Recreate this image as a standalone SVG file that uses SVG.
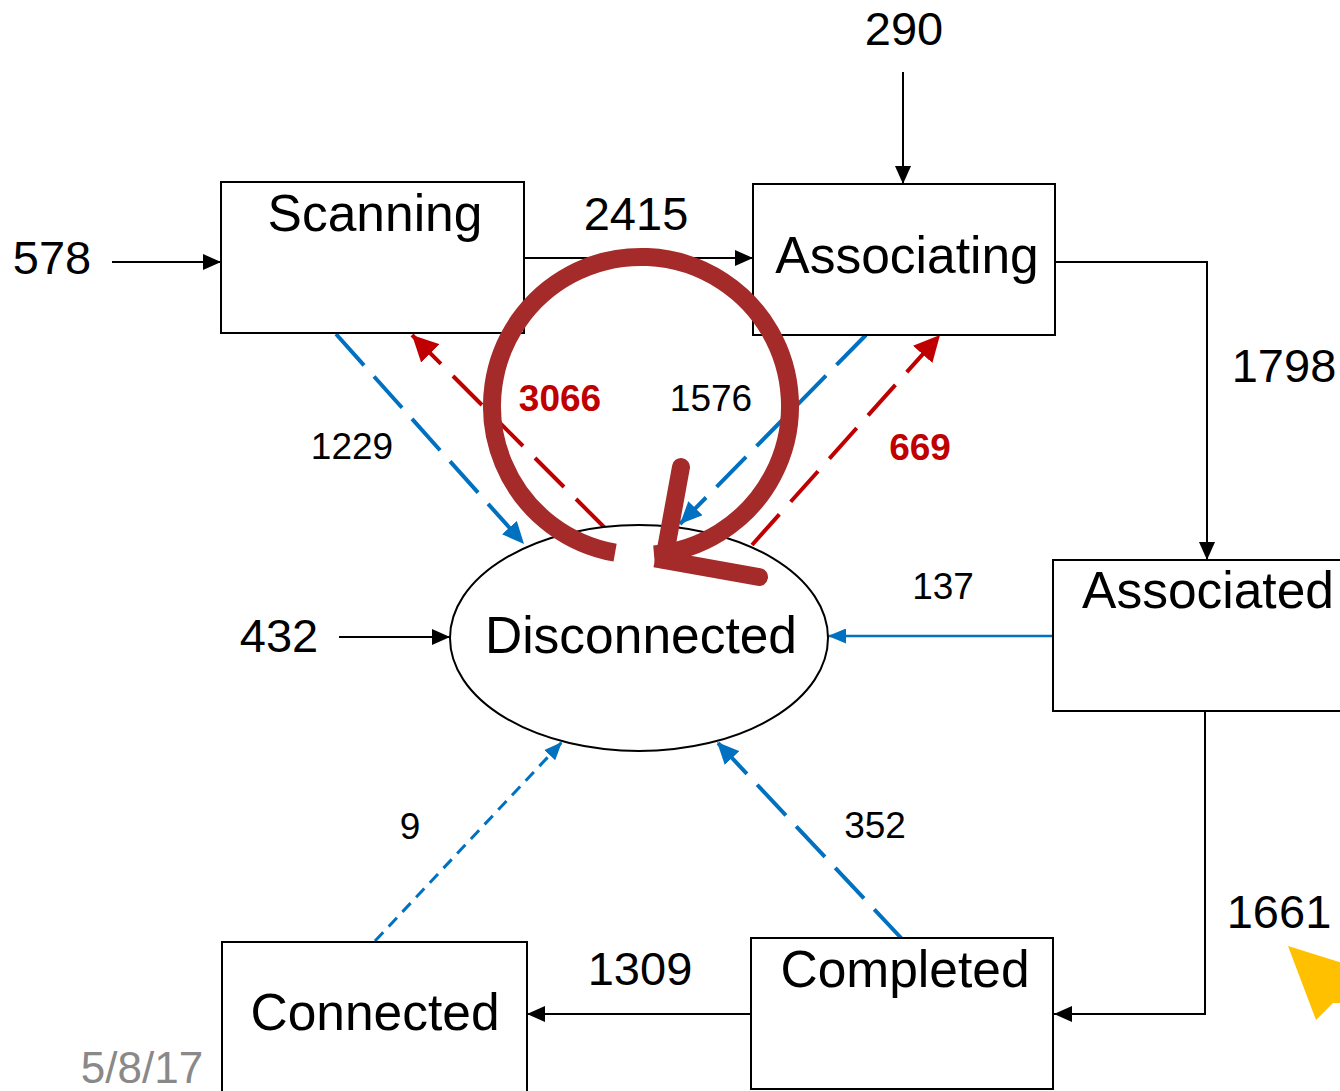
<svg xmlns="http://www.w3.org/2000/svg" width="1340" height="1091" viewBox="0 0 1340 1091">
  <style>
    .box { fill: #ffffff; stroke: #000000; stroke-width: 2; }
    .lbl { font-family: "Liberation Sans", Arial, sans-serif; font-size: 51.5px; fill: #000000; text-anchor: middle; }
    .big { font-family: "Liberation Sans", Arial, sans-serif; font-size: 47px; fill: #000000; text-anchor: middle; }
    .sm { font-family: "Liberation Sans", Arial, sans-serif; font-size: 37px; fill: #000000; text-anchor: middle; }
    .smr { font-family: "Liberation Sans", Arial, sans-serif; font-size: 37px; font-weight: bold; fill: #C00000; text-anchor: middle; }
    .blk { fill: none; stroke: #000000; stroke-width: 2; }
    .blu { fill: none; stroke: #0070C0; stroke-width: 4; stroke-dasharray: 42 15; }
    .red { fill: none; stroke: #C00000; stroke-width: 4; stroke-dasharray: 41 17; }
  </style>
  <defs>
    <marker id="mK" viewBox="0 0 18 16" refX="18" refY="8" markerWidth="18" markerHeight="16" markerUnits="userSpaceOnUse" orient="auto">
      <path d="M0,0 L18,8 L0,16 z" fill="#000000"/>
    </marker>
    <marker id="mB" viewBox="0 0 22 20" refX="22" refY="10" markerWidth="22" markerHeight="20" markerUnits="userSpaceOnUse" orient="auto">
      <path d="M0,0 L22,10 L0,20 z" fill="#0070C0"/>
    </marker>
    <marker id="mBs" viewBox="0 0 18 15" refX="18" refY="7.5" markerWidth="18" markerHeight="15" markerUnits="userSpaceOnUse" orient="auto">
      <path d="M0,0 L18,7.5 L0,15 z" fill="#0070C0"/>
    </marker>
    <marker id="mR" viewBox="0 0 26 26" refX="26" refY="13" markerWidth="26" markerHeight="26" markerUnits="userSpaceOnUse" orient="auto">
      <path d="M0,0 L26,13 L0,26 z" fill="#C00000"/>
    </marker>
  </defs>
  <rect width="1340" height="1091" fill="#ffffff"/>

  <g id="connectors">
    <line class="blk" x1="112" y1="262" x2="221" y2="262" marker-end="url(#mK)"/>
    <line class="blk" x1="903" y1="72" x2="903" y2="184" marker-end="url(#mK)"/>
    <line class="blk" x1="339" y1="637" x2="450" y2="637" marker-end="url(#mK)"/>
    <line class="blk" x1="524" y1="258" x2="753" y2="258" marker-end="url(#mK)"/>
    <polyline class="blk" points="1055,262 1207,262 1207,560" marker-end="url(#mK)"/>
    <polyline class="blk" points="1205,711 1205,1014 1054,1014" marker-end="url(#mK)"/>
    <line class="blk" x1="751" y1="1014" x2="527" y2="1014" marker-end="url(#mK)"/>
    <line x1="1053" y1="636" x2="828" y2="636" stroke="#0070C0" stroke-width="2.5" marker-end="url(#mBs)"/>
    <line class="blu" x1="336" y1="334" x2="524" y2="544" marker-end="url(#mB)"/>
    <line class="blu" x1="866" y1="335" x2="680" y2="524" stroke-dasharray="41 17" marker-end="url(#mB)"/>
    <line class="blu" x1="903" y1="940" x2="717" y2="742" marker-end="url(#mB)"/>
    <line x1="375" y1="941" x2="562" y2="742" stroke="#0070C0" stroke-width="3" stroke-dasharray="12 8" marker-end="url(#mBs)"/>
    <line class="red" x1="605" y1="528" x2="412" y2="335" stroke-width="5" stroke-dasharray="65 23" marker-end="url(#mR)"/>
    <line class="red" x1="752" y1="545" x2="940" y2="335" marker-end="url(#mR)"/>
  </g>

  <g id="node-scanning">
    <rect class="box" x="221" y="182" width="303" height="151"/>
    <text class="lbl" x="375" y="231">Scanning</text>
  </g>
  <g id="node-associating">
    <rect class="box" x="753" y="184" width="302" height="151"/>
    <text class="lbl" x="907" y="273">Associating</text>
  </g>
  <g id="node-associated">
    <rect class="box" x="1053" y="560" width="300" height="151"/>
    <text class="lbl" x="1208" y="608">Associated</text>
  </g>
  <g id="node-completed">
    <rect class="box" x="751" y="938" width="302" height="151"/>
    <text class="lbl" x="905" y="987">Completed</text>
  </g>
  <g id="node-connected">
    <rect class="box" x="222" y="942" width="305" height="170"/>
    <text class="lbl" x="375" y="1030">Connected</text>
  </g>
  <g id="node-disconnected">
    <ellipse class="box" cx="639" cy="638" rx="189" ry="113"/>
    <text class="lbl" x="641" y="653">Disconnected</text>
  </g>

  <g id="labels">
    <text class="big" x="52" y="274">578</text>
    <text class="big" x="904" y="45">290</text>
    <text class="big" x="279" y="652">432</text>
    <text class="big" x="636" y="230">2415</text>
    <text class="big" x="1284" y="382">1798</text>
    <text class="big" x="1279" y="928">1661</text>
    <text class="big" x="640" y="985">1309</text>
    <text class="sm" x="943" y="599">137</text>
    <text class="sm" x="352" y="459">1229</text>
    <text class="sm" x="711" y="411">1576</text>
    <text class="sm" x="410" y="839">9</text>
    <text class="sm" x="875" y="838">352</text>
    <text class="smr" x="560" y="411">3066</text>
    <text class="smr" x="920" y="460">669</text>
  </g>

  <g id="loop-arrow">
    <path d="M615.1,552.7 A149,149 0 1 1 654,554.4" fill="none" stroke="#A52A2A" stroke-width="18"/>
    <polyline points="681,467 664,560 759,577" fill="none" stroke="#A52A2A" stroke-width="18" stroke-linejoin="miter" stroke-linecap="round"/>
  </g>

  <g id="pointer">
    <polygon points="1288,946 1342,963 1342,1003 1333,1003 1316,1020" fill="#FFC000"/>
  </g>

  <text x="142" y="1083" font-family="Liberation Sans, Arial, sans-serif" font-size="44" fill="#898989" text-anchor="middle">5/8/17</text>
</svg>
